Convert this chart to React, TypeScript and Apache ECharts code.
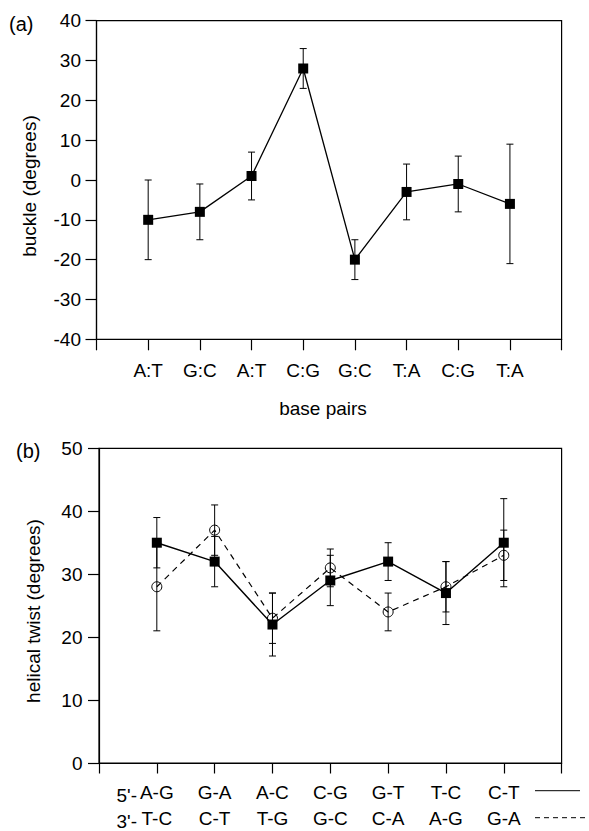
import React, { useEffect, useRef } from "react";
import * as echarts from "echarts";

// Panel (a): buckle
const buckleCats = ["A:T", "G:C", "A:T", "C:G", "G:C", "T:A", "C:G", "T:A"];
const buckleValues = [-10, -8, 1, 28, -20, -3, -1, -6];
const buckleLow = [-20, -15, -5, 23, -25, -10, -8, -21];
const buckleHigh = [0, -1, 7, 33, -15, 4, 6, 9];
const buckleTicks = [-40, -30, -20, -10, 0, 10, 20, 30, 40];

// Panel (b): helical twist
const twistTop = ["A-G", "G-A", "A-C", "C-G", "G-T", "T-C", "C-T"];
const twistBottom = ["T-C", "C-T", "T-G", "G-C", "C-A", "A-G", "G-A"];
const twistSolid = [35, 32, 22, 29, 32, 27, 35];
const solidLow = [31, 28, 17, 25, 29, 22, 28];
const solidHigh = [39, 36, 27, 33, 35, 32, 42];
const twistDashed = [28, 37, 23, 31, 24, 28, 33];
const dashedLow = [21, 33, 19, 28, 21, 24, 29];
const dashedHigh = [35, 41, 27, 34, 27, 32, 37];
const twistTicks = [0, 10, 20, 30, 40, 50];

const FONT = "'Liberation Sans', Arial, Helvetica, sans-serif";

function errorRender(params: any, api: any) {
  const x = api.value(0);
  const lo = api.coord([x, api.value(1)]);
  const hi = api.coord([x, api.value(2)]);
  const w = 3.5;
  const style = { stroke: "#000", lineWidth: 1 };
  return {
    type: "group",
    children: [
      { type: "line", shape: { x1: lo[0], y1: lo[1], x2: hi[0], y2: hi[1] }, style },
      { type: "line", shape: { x1: lo[0] - w, y1: lo[1], x2: lo[0] + w, y2: lo[1] }, style },
      { type: "line", shape: { x1: hi[0] - w, y1: hi[1], x2: hi[0] + w, y2: hi[1] }, style },
    ],
  };
}

export default function App() {
  const ref = useRef<HTMLDivElement>(null);
  useEffect(() => {
    if (!ref.current) return;
    const chart = echarts.init(ref.current, undefined, { renderer: "svg" });
    const axisLineStyle = { color: "#000", width: 1.2 };
    const labelStyle = { color: "#000", fontSize: 19, fontFamily: FONT };

    const option: any = {
      animation: false,
      backgroundColor: "#fff",
      grid: [
        { left: 96.5, right: 27.4, top: 20.7, height: 318.6, show: true, borderColor: "#000", borderWidth: 1.2, backgroundColor: "transparent" },
        { left: 99, right: 27.4, top: 448.3, height: 317.7, show: true, borderColor: "#000", borderWidth: 1.2, backgroundColor: "transparent" },
      ],
      xAxis: [
        {
          type: "value", gridIndex: 0, min: 0, max: buckleCats.length + 1, interval: 1,
          axisLine: { show: true, onZero: false, lineStyle: axisLineStyle },
          axisTick: { show: true, inside: false, length: 11, lineStyle: { color: "#000", width: 1.2 } },
          splitLine: { show: false },
          axisLabel: {
            ...labelStyle, margin: 22,
            formatter: (v: number) => (v >= 1 && v <= buckleCats.length ? buckleCats[v - 1] : ""),
          },
        },
        {
          type: "value", gridIndex: 1, min: 0, max: twistTop.length + 1, interval: 1,
          axisLine: { show: true, onZero: false, lineStyle: axisLineStyle },
          axisTick: { show: true, inside: false, length: 10.5, lineStyle: { color: "#000", width: 1.2 } },
          splitLine: { show: false },
          axisLabel: {
            ...labelStyle, margin: 16, lineHeight: 26,
            formatter: (v: number) => (v >= 1 && v <= twistTop.length ? twistTop[v - 1] + "\n" + twistBottom[v - 1] : ""),
          },
        },
      ],
      yAxis: [
        {
          type: "value", gridIndex: 0, min: buckleTicks[0], max: buckleTicks[buckleTicks.length - 1], interval: 10,
          axisLine: { show: true, onZero: false, lineStyle: axisLineStyle },
          axisTick: { show: true, inside: false, length: 11, lineStyle: { color: "#000", width: 1.2 } },
          splitLine: { show: false },
          axisLabel: { ...labelStyle, margin: 15.5 },
        },
        {
          type: "value", gridIndex: 1, min: twistTicks[0], max: twistTicks[twistTicks.length - 1], interval: 10,
          axisLine: { show: true, onZero: false, lineStyle: axisLineStyle },
          axisTick: { show: true, inside: false, length: 11, lineStyle: { color: "#000", width: 1.2 } },
          splitLine: { show: false },
          axisLabel: { ...labelStyle, margin: 16.5 },
        },
      ],
      series: [
        {
          type: "custom", xAxisIndex: 0, yAxisIndex: 0, z: 1,
          renderItem: errorRender, encode: { x: 0, y: [1, 2] },
          data: buckleValues.map((_, i) => [i + 1, buckleLow[i], buckleHigh[i]]),
        },
        {
          type: "line", xAxisIndex: 0, yAxisIndex: 0, z: 3,
          data: buckleValues.map((v, i) => [i + 1, v]),
          symbol: "rect", symbolSize: 10,
          lineStyle: { color: "#000", width: 1.3 },
          itemStyle: { color: "#000" },
        },
        {
          type: "custom", xAxisIndex: 1, yAxisIndex: 1, z: 1,
          renderItem: errorRender, encode: { x: 0, y: [1, 2] },
          data: twistSolid.map((_, i) => [i + 1, solidLow[i], solidHigh[i]]),
        },
        {
          type: "custom", xAxisIndex: 1, yAxisIndex: 1, z: 1,
          renderItem: errorRender, encode: { x: 0, y: [1, 2] },
          data: twistDashed.map((_, i) => [i + 1, dashedLow[i], dashedHigh[i]]),
        },
        {
          type: "line", xAxisIndex: 1, yAxisIndex: 1, z: 2,
          data: twistDashed.map((v, i) => [i + 1, v]),
          symbol: "circle", symbolSize: 10,
          lineStyle: { color: "#000", width: 1.2, type: [6, 5] },
          itemStyle: { color: "transparent", borderColor: "#000", borderWidth: 1 },
        },
        {
          type: "line", xAxisIndex: 1, yAxisIndex: 1, z: 3,
          data: twistSolid.map((v, i) => [i + 1, v]),
          symbol: "rect", symbolSize: 10,
          lineStyle: { color: "#000", width: 1.4 },
          itemStyle: { color: "#000" },
        },
      ],
      graphic: [
        { type: "text", left: 9, top: 14, style: { text: "(a)", fontSize: 20, fontFamily: FONT, fill: "#000" } },
        { type: "text", left: 16, top: 441, style: { text: "(b)", fontSize: 20, fontFamily: FONT, fill: "#000" } },
        {
          type: "text", x: 29, y: 186, rotation: Math.PI / 2,
          style: { text: "buckle (degrees)", fontSize: 19, fontFamily: FONT, fill: "#000", align: "center", verticalAlign: "middle" },
        },
        {
          type: "text", x: 33, y: 611, rotation: Math.PI / 2,
          style: { text: "helical twist (degrees)", fontSize: 19, fontFamily: FONT, fill: "#000", align: "center", verticalAlign: "middle" },
        },
        {
          type: "text", x: 323, y: 408,
          style: { text: "base pairs", fontSize: 19, fontFamily: FONT, fill: "#000", align: "center", verticalAlign: "middle" },
        },
        {
          type: "text", x: 137, y: 795,
          style: { text: "5'-", fontSize: 19, fontFamily: FONT, fill: "#000", align: "right", verticalAlign: "middle" },
        },
        {
          type: "text", x: 137, y: 821,
          style: { text: "3'-", fontSize: 19, fontFamily: FONT, fill: "#000", align: "right", verticalAlign: "middle" },
        },
        { type: "line", shape: { x1: 535, y1: 790.7, x2: 580, y2: 790.7 }, style: { stroke: "#000", lineWidth: 1 } },
        { type: "line", shape: { x1: 535, y1: 817.7, x2: 588, y2: 817.7 }, style: { stroke: "#000", lineWidth: 1, lineDash: [5, 4] } },
      ],
    };
    chart.setOption(option);
    return () => chart.dispose();
  }, []);
  return (
    <div
      ref={ref}
      style={{ position: "fixed", top: 0, left: 0, width: 589, height: 831, background: "#fff" }}
    />
  );
}
